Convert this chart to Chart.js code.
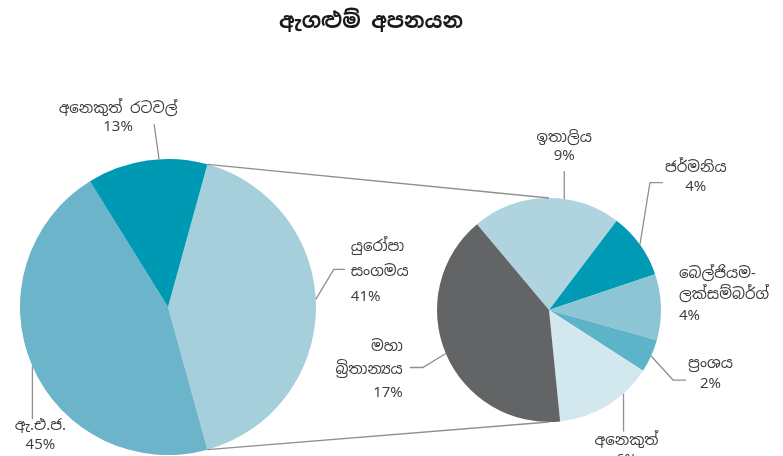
<!DOCTYPE html>
<html>
<head>
<meta charset="utf-8">
<script src="https://cdn.jsdelivr.net/npm/chart.js@4"></script>
<style>
  body { margin: 0; background: #fff; }
  #wrap { position: relative; width: 783px; height: 456px; overflow: hidden; }
  canvas { position: absolute; left: 0; top: 0; }
</style>
</head>
<body>
<div id="wrap">
  <canvas id="mainPie" width="783" height="456"></canvas>
  <canvas id="subPie" width="783" height="456"></canvas>
</div>
<script>
const chartTitle = 'ඇගළුම් අපනයන';

// main pie: EU, USA, other countries
const mainLines = [['යුරෝපා', 'සංගමය'], ['ඇ.එ.ජ.'], ['අනෙකුත් රටවල්']];
const mainValues = [41, 45, 13];
const mainColors = ['#a6cfdc', '#6bb4c9', '#0099b3'];

// breakdown of the EU slice
const subLines = [['ඉතාලිය'], ['ජර්මනිය'], ['බෙල්ජියම-', 'ලක්සම්බර්ග්'], ['ප්‍රංශය'], ['අනෙකුත්'], ['මහා', 'බ්‍රිතාන්‍යය']];
const subValues = [9, 4, 4, 2, 6, 17];
const subColors = ['#afd3df', '#009ab5', '#8ec5d5', '#5db3c8', '#d2e7ee', '#636466'];

const FONT = '"Noto Sans Sinhala", "Iskoola Pota", "Noto Sans", sans-serif';
const textColor = '#3a3a3a';
const lineColor = '#8f8f8f';

// label placement per canvas (leader offsets, side of text block)
const labelSetup = {
  mainPie: {
    lines: mainLines,
    place: [
      { at: 0.48, pts: [[18, -30], [11, 0]], side: 'right', gap: 6, align: 'left', lh: 25, shift: [0, 3] },
      { pts: [[0, 53]], side: 'bottom', gap: -3, shift: [8, 0], lh: 19 },
      { at: 0.6, pts: [[-5, -35]], side: 'top', gap: -12, shift: [-36, 0], lh: 18 }
    ]
  },
  subPie: {
    lines: subLines,
    place: [
      { at: 0.62, pts: [[0, -28]], side: 'top', gap: 6, lh: 18 },
      { pts: [[10, -62], [13, 0]], side: 'right', gap: 2, shift: [0, -5], lh: 19 },
      { side: 'right', gap: 18, shift: [0, -12], align: 'left', lh: 21 },
      { pts: [[22, 24], [13, 0]], side: 'right', gap: 2, shift: [0, -6], lh: 20 },
      { at: 0.3, pts: [[0, 38]], side: 'bottom', gap: 0, shift: [3, 0], lh: 19 },
      { pts: [[-23, 14], [-13, 0]], side: 'left', gap: 7, align: 'right', lh: 23, shift: [0, 2] }
    ]
  }
};

const pieLabels = {
  id: 'pieLabels',
  afterDatasetsDraw(chart) {
    const setup = labelSetup[chart.canvas.id];
    const ctx = chart.ctx;
    const meta = chart.getDatasetMeta(0);
    const values = chart.data.datasets[0].data;
    ctx.save();
    ctx.font = '15px ' + FONT;
    ctx.strokeStyle = lineColor;
    ctx.lineWidth = 1.3;
    meta.data.forEach((arc, i) => {
      const p = setup.place[i];
      const frac = p.at === undefined ? 0.5 : p.at;
      const a = arc.startAngle + (arc.endAngle - arc.startAngle) * frac;
      let x = arc.x + Math.cos(a) * arc.outerRadius;
      let y = arc.y + Math.sin(a) * arc.outerRadius;
      const pts = p.pts || [];
      if (pts.length) {
        ctx.beginPath();
        ctx.moveTo(x, y);
        pts.forEach(d => { x += d[0]; y += d[1]; ctx.lineTo(x, y); });
        ctx.stroke();
      }
      const lines = setup.lines[i].concat([values[i] + '%']);
      const lh = p.lh || 20;
      let w = 0;
      lines.forEach(t => { w = Math.max(w, ctx.measureText(t).width); });
      const h = lines.length * lh;
      const gap = p.gap === undefined ? 4 : p.gap;
      let left, top;
      if (p.side === 'right') { left = x + gap; top = y - h / 2; }
      else if (p.side === 'left') { left = x - gap - w; top = y - h / 2; }
      else if (p.side === 'top') { left = x - w / 2; top = y - gap - h; }
      else { left = x - w / 2; top = y + gap; }
      if (p.shift) { left += p.shift[0]; top += p.shift[1]; }
      const align = p.align || 'center';
      ctx.fillStyle = textColor;
      ctx.textBaseline = 'middle';
      ctx.textAlign = align;
      lines.forEach((t, k) => {
        const tx = align === 'left' ? left : align === 'right' ? left + w : left + w / 2;
        ctx.fillText(t, tx, top + lh * (k + 0.5));
      });
    });
    ctx.restore();
  }
};

const titlePlugin = {
  id: 'titleText',
  afterDraw(chart) {
    const ctx = chart.ctx;
    ctx.save();
    ctx.font = 'bold 21px ' + FONT;
    ctx.fillStyle = '#1a1a1a';
    ctx.textAlign = 'center';
    ctx.textBaseline = 'middle';
    ctx.fillText(chartTitle, 371, 22);
    ctx.restore();
  }
};

const mainSum = mainValues.reduce((a, b) => a + b, 0);

const mainChart = new Chart(document.getElementById('mainPie'), {
  type: 'pie',
  data: {
    labels: mainLines.map(l => l.join(' ')),
    datasets: [{ data: mainValues, backgroundColor: mainColors, borderWidth: 0 }]
  },
  options: {
    responsive: false,
    animation: false,
    rotation: 90 - mainValues[0] / mainSum * 180,
    layout: { padding: { left: 20, top: 159, right: 467, bottom: 1 } },
    plugins: { legend: { display: false }, tooltip: { enabled: false } }
  },
  plugins: [pieLabels, titlePlugin]
});

const connectors = {
  id: 'connectors',
  afterDatasetsDraw(chart) {
    const eu = mainChart.getDatasetMeta(0).data[0];
    const sub = chart.getDatasetMeta(0).data[0];
    const ctx = chart.ctx;
    ctx.save();
    ctx.strokeStyle = lineColor;
    ctx.lineWidth = 1.3;
    ctx.beginPath();
    ctx.moveTo(eu.x + Math.cos(eu.startAngle) * eu.outerRadius, eu.y + Math.sin(eu.startAngle) * eu.outerRadius);
    ctx.lineTo(sub.x, sub.y - sub.outerRadius);
    ctx.moveTo(eu.x + Math.cos(eu.endAngle) * eu.outerRadius, eu.y + Math.sin(eu.endAngle) * eu.outerRadius);
    ctx.lineTo(sub.x, sub.y + sub.outerRadius);
    ctx.stroke();
    ctx.restore();
  }
};

new Chart(document.getElementById('subPie'), {
  type: 'pie',
  data: {
    labels: subLines.map(l => l.join('')),
    datasets: [{ data: subValues, backgroundColor: subColors, borderWidth: 0 }]
  },
  options: {
    responsive: false,
    animation: false,
    rotation: -40,
    layout: { padding: { left: 437, top: 198, right: 122, bottom: 34 } },
    plugins: { legend: { display: false }, tooltip: { enabled: false } }
  },
  plugins: [connectors, pieLabels]
});
</script>
</body>
</html>
